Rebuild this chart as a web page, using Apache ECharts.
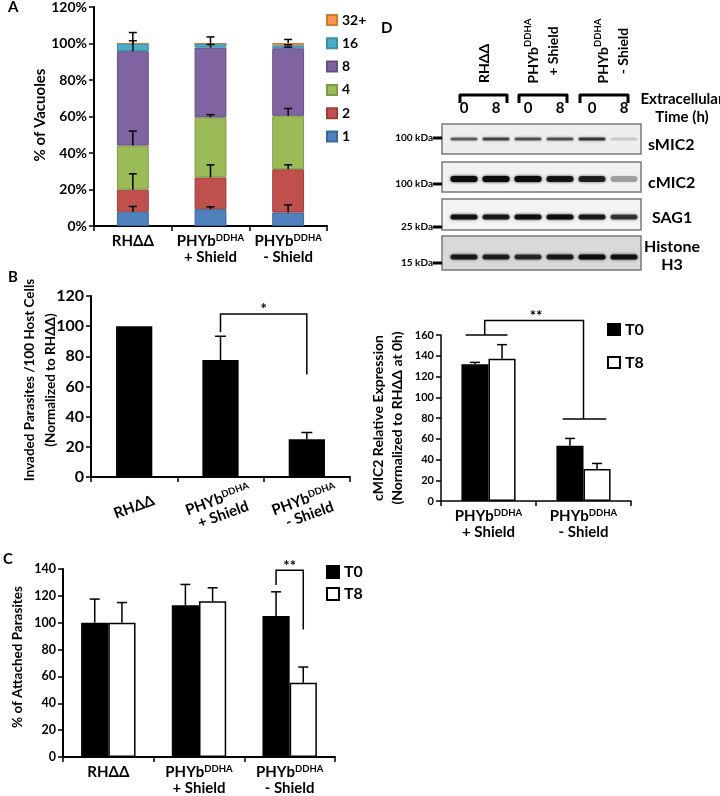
<!DOCTYPE html>
<html><head><meta charset="utf-8">
<script src="https://cdn.jsdelivr.net/npm/echarts@6/dist/echarts.min.js"></script>
<style>html,body{margin:0;padding:0;background:#fff}#c{width:720px;height:796px}</style>
</head><body><div id="c"></div>
<script>
// ---------- Panel A : vacuole size distribution (stacked %) ----------
const catsA = ['RHΔΔ', 'PHYbDDHA + Shield', 'PHYbDDHA - Shield'];
const vac1  = [7.8, 9.2, 7.4];
const vac2  = [12.1, 17.4, 23.7];
const vac4  = [24.2, 32.9, 29.3];
const vac8  = [51.7, 38.3, 37.0];
const vac16 = [4.2, 2.2, 1.6];
const vac32 = [0, 0, 1.3];
const errVac1  = [2.9, 1.3, 4.2];
const errVac2  = [8.7, 6.9, 2.4];
const errVac4  = [7.9, 1.5, 4.0];
const errVac8  = [5.7, 1.7, 0.6];
const errVac16 = [6.0, 3.6, 0.3];
const errVac32 = [0, 0, 1.9];
const vacNames = ['1', '2', '4', '8', '16', '32+'];

// ---------- Panel B : invasion ----------
const catsB = ['RHΔΔ', 'PHYbDDHA + Shield', 'PHYbDDHA - Shield'];
const invaded = [100, 77.5, 25];
const errInvaded = [0, 15.8, 4.5];

// ---------- Panel C : attachment ----------
const catsC = ['RHΔΔ', 'PHYbDDHA + Shield', 'PHYbDDHA - Shield'];
const attachT0 = [100, 113, 105];
const attachT8 = [100, 116, 55.3];
const errAttachT0 = [17.6, 15.5, 18];
const errAttachT8 = [15, 10, 11.7];

// ---------- Panel D : cMIC2 quantification ----------
const catsD = ['PHYbDDHA + Shield', 'PHYbDDHA - Shield'];
const cmicT0 = [131.7, 53.2];
const cmicT8 = [137.2, 30.8];
const errCmicT0 = [1.9, 7.1];
const errCmicT8 = [13.5, 5.4];

// ---------- Panel D : western blot (relative band intensities) ----------
const lanes = ['RHΔΔ 0h', 'RHΔΔ 8h', '+Shield 0h', '+Shield 8h', '-Shield 0h', '-Shield 8h'];
const laneTimes = ['0', '8', '0', '8', '0', '8'];
const blots = ['sMIC2', 'cMIC2', 'SAG1', 'Histone\nH3'];
const bandSMIC2 = [0.55, 0.65, 0.6, 0.6, 0.7, 0.15];
const bandCMIC2 = [1.0, 1.0, 1.0, 0.88, 0.8, 0.3];
const bandSAG1 = [0.9, 0.85, 0.92, 0.95, 0.85, 0.7];
const bandH3 = [0.85, 0.8, 0.75, 0.85, 0.95, 0.9];
const markerKDa = ['100 kDa', '100 kDa', '25 kDa', '15 kDa'];

// ---------- styles ----------
const FONT = 'Lato';
const vacColors = ['#4F81BD', '#C0504D', '#9BBB59', '#8064A2', '#4BACC6', '#F79646'];
const vacBorders = ['#3d6699', '#9c3d3a', '#7d9a45', '#654e85', '#3a8ea6', '#d27a34'];
const bandDy = [0, 2, 2, 4];
const bandH = [3, 6, 5, 5];
const frameUp = [15, 15, 16, 17];
const frameDown = [15, 15, 15, 17];
const frameFill = ['#eeeeee', '#f1f1f1', '#f3f3f3', '#d9d9d9'];
const labelDy = [6, 6, 3, 3];
const labelX = [648, 648, 652, 672];
const markerDy = [-1, 7, 12, 10];

const chart = echarts.init(document.getElementById('c'), null, {renderer: 'canvas', width: 720, height: 796});

const supRich = {s: {fontSize: 9.5, fontWeight: 'bold', fontFamily: FONT, verticalAlign: 'top', lineHeight: 10, color: '#000'}};
function fmtCat(v) {
  return v.replace('DDHA', '{s|DDHA}').replace(' + ', '\n+ ').replace(' - ', '\n- ');
}
function catAxis(gi, data, extra) {
  return Object.assign({
    type: 'category', gridIndex: gi, data: data,
    axisLine: {show: true, lineStyle: {color: '#000', width: 2}},
    axisTick: {show: true, length: 5, lineStyle: {color: '#000', width: 1.5}},
    axisLabel: {interval: 0, formatter: fmtCat, fontSize: 15, fontWeight: 'bold', fontFamily: FONT,
      color: '#000', lineHeight: 16, margin: 7, rich: supRich}
  }, extra || {});
}
function valAxis(gi, max, fs, fmt, lw) {
  return {
    type: 'value', gridIndex: gi, min: 0, max: max, interval: 20,
    splitLine: {show: false},
    axisLine: {show: true, lineStyle: {color: '#000', width: lw}},
    axisTick: {show: true, length: 5, lineStyle: {color: '#000', width: 1.5}},
    axisLabel: {fontSize: fs, fontWeight: 'bold', fontFamily: FONT, color: '#000', margin: 7, formatter: fmt || '{value}'}
  };
}
function errSeries(xi, data, offsetFrac, capW) {
  return {
    type: 'custom', xAxisIndex: xi, yAxisIndex: xi, silent: true, z: 6, data: data,
    renderItem: function (params, api) {
      const c = api.value(0), top = api.value(1), e = api.value(2);
      const p0 = api.coord([c, top]);
      const p1 = api.coord([c, top + e]);
      const bw = api.size([1, 0])[0];
      const x = p0[0] + offsetFrac * bw;
      return {type: 'group', children: [
        {type: 'line', shape: {x1: x, y1: p0[1], x2: x, y2: p1[1]}, style: {stroke: '#000', lineWidth: 1.5}},
        {type: 'line', shape: {x1: x - capW / 2, y1: p1[1], x2: x + capW / 2, y2: p1[1]}, style: {stroke: '#000', lineWidth: 1.5}}
      ]};
    }
  };
}
function pathSeries(xi, paths, label) {
  return {
    type: 'custom', xAxisIndex: xi, yAxisIndex: xi, silent: true, z: 7, data: [[0, 0]],
    renderItem: function (params, api) {
      const bw = api.size([1, 0])[0];
      const pt = function (a) { const p = api.coord([a[0], a[2]]); return [p[0] + a[1] * bw, p[1]]; };
      const children = paths.map(function (pp) {
        return {type: 'polyline', shape: {points: pp.map(pt)}, style: {stroke: '#000', lineWidth: 1.5, fill: null}};
      });
      const lp = pt(label.at);
      children.push({type: 'text', x: lp[0], y: lp[1] + label.dy, style: {text: label.text, fontSize: label.size,
        fontWeight: 'bold', fontFamily: FONT, align: 'center', verticalAlign: 'bottom', fill: '#000'}});
      return {type: 'group', children: children};
    }
  };
}

// ---- Panel A series
const vacData = [vac1, vac2, vac4, vac8, vac16, vac32];
const vacErr = [errVac1, errVac2, errVac4, errVac8, errVac16, errVac32];
const seriesA = vacData.map(function (d, i) {
  return {name: vacNames[i], type: 'bar', stack: 'A', xAxisIndex: 0, yAxisIndex: 0, barWidth: '41%', data: d,
    itemStyle: {color: vacColors[i], borderColor: vacBorders[i], borderWidth: 1}};
});
const errAData = [];
const cum = [0, 0, 0];
vacData.forEach(function (d, i) {
  d.forEach(function (v, c) {
    cum[c] += v;
    if (vacErr[i][c] > 0) errAData.push([c, cum[c], vacErr[i][c]]);
  });
});

// ---- Blot data
const blotRows = [bandSMIC2, bandCMIC2, bandSAG1, bandH3];
const bandData = [];
blotRows.forEach(function (row, b) { row.forEach(function (v, l) { bandData.push([l, b, v]); }); });

const option = {
  animation: false,
  backgroundColor: '#fff',
  textStyle: {fontFamily: FONT},
  grid: [
    {left: 94, top: 5, width: 233, height: 221},
    {left: 91, top: 296, width: 259, height: 181},
    {left: 63, top: 569, width: 272, height: 192},
    {left: 441, top: 335, width: 190, height: 166},
    {left: 448, top: 120, width: 192, height: 152}
  ],
  xAxis: [
    catAxis(0, catsA),
    catAxis(1, catsB, {axisLabel: {interval: 0, formatter: fmtCat, fontSize: 15, fontWeight: 'bold', fontFamily: FONT,
      color: '#000', lineHeight: 16, margin: 30, rotate: 20, align: 'center', verticalAlign: 'middle', rich: supRich}}),
    catAxis(2, catsC),
    catAxis(3, catsD, {axisLine: {show: true, lineStyle: {color: '#000', width: 1.5}}}),
    {type: 'category', gridIndex: 4, position: 'top', data: lanes, axisLine: {show: false}, axisTick: {show: false},
      axisLabel: {interval: 0, formatter: function (v, i) { return laneTimes[i]; }, fontSize: 15, fontWeight: 'bold',
        fontFamily: FONT, color: '#000', margin: 4}}
  ],
  yAxis: [
    valAxis(0, 120, 14, '{value}%', 2),
    valAxis(1, 120, 16, '{value}', 2),
    valAxis(2, 140, 12.5, '{value}', 2),
    valAxis(3, 160, 11, '{value}', 1.5),
    {type: 'category', gridIndex: 4, inverse: true, data: blots, show: false}
  ],
  legend: [
    {data: ['32+', '16', '8', '4', '2', '1'], orient: 'vertical', left: 326, top: 13, padding: 0, icon: 'rect',
      itemWidth: 10, itemHeight: 10, itemGap: 9.3, selectedMode: false,
      textStyle: {fontSize: 14, fontWeight: 'bold', fontFamily: FONT, color: '#000', lineHeight: 14}},
    {data: ['T0', 'T8'], orient: 'vertical', left: 326, top: 564, padding: 0, icon: 'rect',
      itemWidth: 12, itemHeight: 12, itemGap: 6, selectedMode: false,
      textStyle: {fontSize: 16, fontWeight: 'bold', fontFamily: FONT, color: '#000', lineHeight: 16}},
    {data: ['T0', 'T8'], orient: 'vertical', left: 607, top: 321.5, padding: 0, icon: 'rect',
      itemWidth: 12, itemHeight: 11, itemGap: 17, selectedMode: false,
      textStyle: {fontSize: 16, fontWeight: 'bold', fontFamily: FONT, color: '#000', lineHeight: 16}}
  ],
  series: seriesA.concat([
    errSeries(0, errAData, 0, 8),
    {name: 'Invaded', type: 'bar', xAxisIndex: 1, yAxisIndex: 1, barWidth: '42%', data: invaded, itemStyle: {color: '#000'}},
    errSeries(1, invaded.map(function (v, i) { return [i, v, errInvaded[i]]; }).filter(function (d) { return d[2] > 0; }), 0, 11),
    pathSeries(1, [[[1, 0, 96], [1, 0, 108], [2, 0, 108], [2, 0, 68]]], {at: [1, 0.5, 108], text: '*', size: 15, dy: 3}),
    {name: 'T0', type: 'bar', xAxisIndex: 2, yAxisIndex: 2, barWidth: '30%', barGap: '0%', data: attachT0,
      itemStyle: {color: '#000', borderColor: '#000', borderWidth: 1.5}},
    {name: 'T8', type: 'bar', xAxisIndex: 2, yAxisIndex: 2, barWidth: '30%', barGap: '0%', data: attachT8,
      itemStyle: {color: '#fff', borderColor: '#000', borderWidth: 1.5}},
    errSeries(2, attachT0.map(function (v, i) { return [i, v, errAttachT0[i]]; }), -0.15, 10),
    errSeries(2, attachT8.map(function (v, i) { return [i, v, errAttachT8[i]]; }), 0.15, 10),
    pathSeries(2, [[[2, -0.15, 128], [2, -0.15, 139], [2, 0.15, 139], [2, 0.15, 95]]], {at: [2, 0, 139], text: '**', size: 15, dy: 3}),
    {name: 'T0', type: 'bar', xAxisIndex: 3, yAxisIndex: 3, barWidth: '28.5%', barGap: '0%', data: cmicT0,
      itemStyle: {color: '#000', borderColor: '#000', borderWidth: 1.5}},
    {name: 'T8', type: 'bar', xAxisIndex: 3, yAxisIndex: 3, barWidth: '28.5%', barGap: '0%', data: cmicT8,
      itemStyle: {color: '#fff', borderColor: '#000', borderWidth: 1.5}},
    errSeries(3, cmicT0.map(function (v, i) { return [i, v, errCmicT0[i]]; }), -0.1425, 10),
    errSeries(3, cmicT8.map(function (v, i) { return [i, v, errCmicT8[i]]; }), 0.1425, 10),
    pathSeries(3, [
      [[0, -0.24, 160], [0, 0.2, 160]],
      [[0, -0.04, 160], [0, -0.04, 174], [1, 0, 174], [1, 0, 79]],
      [[1, -0.22, 79], [1, 0.24, 79]]
    ], {at: [0, 0.5, 174], text: '**', size: 15, dy: 3}),
    // blot frames, labels and markers
    {type: 'custom', xAxisIndex: 4, yAxisIndex: 4, silent: true, z: 2,
      data: blots.map(function (b, i) { return [0, i]; }),
      renderItem: function (params, api) {
        const b = api.value(1);
        const bw = api.size([1, 0])[0];
        const first = api.coord([0, b]);
        const last = api.coord([lanes.length - 1, b]);
        const x0 = first[0] - bw / 2 - 6, x1 = last[0] + bw / 2 + 1, cy = first[1];
        return {type: 'group', children: [
          {type: 'rect', shape: {x: x0, y: cy - frameUp[b], width: x1 - x0, height: frameUp[b] + frameDown[b]},
            style: {fill: frameFill[b], stroke: '#7a7a7a', lineWidth: 1.5}},
          {type: 'text', x: labelX[b], y: cy + labelDy[b], style: {text: blots[b], fontSize: 16, fontWeight: 'bold',
            fontFamily: FONT, fill: '#000', align: b === 3 ? 'center' : 'left', verticalAlign: 'middle', lineHeight: 18}},
          {type: 'text', x: x0 - 9, y: cy + markerDy[b], style: {text: markerKDa[b], fontSize: 10, fontWeight: 'bold',
            fontFamily: FONT, fill: '#000', align: 'right', verticalAlign: 'middle'}},
          {type: 'rect', shape: {x: x0 - 9, y: cy + markerDy[b] - 1.5, width: 9, height: 3}, style: {fill: '#000'}}
        ]};
      }},
    {type: 'custom', xAxisIndex: 4, yAxisIndex: 4, silent: true, z: 3, data: bandData,
      renderItem: function (params, api) {
        const l = api.value(0), b = api.value(1), a = api.value(2);
        const p = api.coord([l, b]);
        const w = 27, h = bandH[b];
        const col = 'rgba(10,10,10,' + a + ')';
        return {type: 'rect', shape: {x: p[0] - w / 2, y: p[1] + bandDy[b] - h / 2, width: w, height: h, r: h / 2},
          style: {fill: col, shadowBlur: 3, shadowColor: col}};
      }}
  ]),
  graphic: [
    {type: 'text', left: 8, top: 0, style: {text: 'A', fontSize: 15, fontWeight: 'bold', fontFamily: FONT, fill: '#000'}},
    {type: 'text', left: 8, top: 270, style: {text: 'B', fontSize: 15, fontWeight: 'bold', fontFamily: FONT, fill: '#000'}},
    {type: 'text', left: 3, top: 552, style: {text: 'C', fontSize: 15, fontWeight: 'bold', fontFamily: FONT, fill: '#000'}},
    {type: 'text', left: 381, top: 21, style: {text: 'D', fontSize: 15, fontWeight: 'bold', fontFamily: FONT, fill: '#000'}},
    {type: 'text', x: 40, y: 115, rotation: Math.PI / 2, style: {text: '% of Vacuoles', fontSize: 15, fontWeight: 'bold',
      fontFamily: FONT, fill: '#000', align: 'center', verticalAlign: 'middle'}},
    {type: 'text', x: 40.5, y: 380, rotation: Math.PI / 2, style: {text: 'Invaded Parasites /100 Host Cells\n(Normalized to RHΔΔ)',
      fontSize: 13.5, fontWeight: 'bold', fontFamily: FONT, fill: '#000', align: 'center', verticalAlign: 'middle', lineHeight: 21}},
    {type: 'text', x: 18, y: 657, rotation: Math.PI / 2, style: {text: '% of Attached Parasites', fontSize: 13.5, fontWeight: 'bold',
      fontFamily: FONT, fill: '#000', align: 'center', verticalAlign: 'middle'}},
    {type: 'text', x: 388, y: 418, rotation: Math.PI / 2, style: {text: 'cMIC2 Relative Expression\n(Normalized to RHΔΔ at 0h)',
      fontSize: 14, fontWeight: 'bold', fontFamily: FONT, fill: '#000', align: 'center', verticalAlign: 'middle', lineHeight: 19}},
    // blot header
    {type: 'text', x: 484, y: 83, rotation: Math.PI / 2, style: {text: 'RHΔΔ', fontSize: 14, fontWeight: 'bold',
      fontFamily: FONT, fill: '#000', align: 'left', verticalAlign: 'middle'}},
    {type: 'text', x: 543, y: 51, rotation: Math.PI / 2, style: {text: 'PHYb{s|DDHA}\n+ Shield', fontSize: 14, fontWeight: 'bold',
      fontFamily: FONT, fill: '#000', align: 'center', verticalAlign: 'middle', lineHeight: 20, rich: supRich}},
    {type: 'text', x: 613, y: 51, rotation: Math.PI / 2, style: {text: 'PHYb{s|DDHA}\n- Shield', fontSize: 14, fontWeight: 'bold',
      fontFamily: FONT, fill: '#000', align: 'center', verticalAlign: 'middle', lineHeight: 20, rich: supRich}},
    {type: 'polyline', shape: {points: [[460, 103], [460, 95], [507, 95], [507, 103]]}, style: {stroke: '#000', lineWidth: 3, fill: null, lineJoin: 'round'}},
    {type: 'polyline', shape: {points: [[519, 103], [519, 95], [567, 95], [567, 103]]}, style: {stroke: '#000', lineWidth: 3, fill: null, lineJoin: 'round'}},
    {type: 'polyline', shape: {points: [[580, 103], [580, 95], [628, 95], [628, 103]]}, style: {stroke: '#000', lineWidth: 3, fill: null, lineJoin: 'round'}},
    {type: 'text', x: 682, y: 108, style: {text: 'Extracellular\nTime (h)', fontSize: 15, fontWeight: 'bold', fontFamily: FONT,
      fill: '#000', align: 'center', verticalAlign: 'middle', lineHeight: 18}}
  ]
};
chart.setOption(option);
</script>
</body></html>
